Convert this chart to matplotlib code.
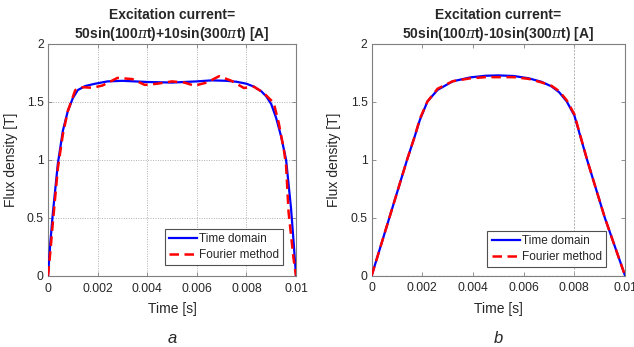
import numpy as np
import matplotlib
matplotlib.use('Agg')
import matplotlib.pyplot as plt

plt.rcParams['font.family'] = ['Liberation Sans', 'DejaVu Sans']
plt.rcParams['mathtext.fontset'] = 'custom'
plt.rcParams['mathtext.it'] = 'DejaVu Serif:italic'

# панель a: 50sin(100πt)+10sin(300πt)
t_a_time = [0, 0.0001, 0.0002, 0.0004, 0.0006, 0.0008, 0.001, 0.0012, 0.0015, 0.0019,
            0.0024, 0.003, 0.004, 0.005, 0.006, 0.0066, 0.0072, 0.0076, 0.008, 0.0083,
            0.0086, 0.0088, 0.009, 0.0092, 0.0094, 0.0096, 0.0098, 0.0099, 0.01]
B_a_time = [0, 0.3, 0.55, 0.97, 1.25, 1.42, 1.53, 1.6, 1.635, 1.655,
            1.675, 1.68, 1.67, 1.665, 1.675, 1.684, 1.68, 1.672, 1.655, 1.63,
            1.59, 1.546, 1.48, 1.36, 1.2, 1.0, 0.58, 0.3, 0]

t_a_four = [0, 0.0001, 0.0002, 0.0004, 0.0006, 0.0008, 0.0011, 0.0014, 0.0018, 0.0022,
            0.0028, 0.0034, 0.0039, 0.0044, 0.005, 0.0055, 0.0059, 0.0064, 0.0069, 0.0074,
            0.0079, 0.0083, 0.0087, 0.0091, 0.0093, 0.0095, 0.0096, 0.0097, 0.0099, 0.01]
B_a_four = [0, 0.22, 0.47, 0.93, 1.22, 1.42, 1.6, 1.625, 1.62, 1.64,
            1.705, 1.695, 1.645, 1.655, 1.675, 1.665, 1.638, 1.665, 1.72, 1.68,
            1.618, 1.63, 1.575, 1.49, 1.32, 1.1, 0.95, 0.55, 0.15, 0]

# панель b: 50sin(100πt)-10sin(300πt)
t_b = [0, 0.0007, 0.0014, 0.0017, 0.0019, 0.0022, 0.0026, 0.0032, 0.0039, 0.0045,
       0.005, 0.0056, 0.0062, 0.0067, 0.0071, 0.0074, 0.0077, 0.008, 0.0085, 0.0092, 0.01]
B_b_time = [0, 0.5, 1.0, 1.2, 1.34, 1.5, 1.6, 1.674, 1.708, 1.722,
            1.725, 1.72, 1.7, 1.67, 1.63, 1.58, 1.5, 1.38, 1.0, 0.5, 0]
B_b_four = [0, 0.5, 1.0, 1.2, 1.35, 1.5, 1.61, 1.675, 1.7, 1.71,
            1.71, 1.71, 1.695, 1.665, 1.635, 1.59, 1.51, 1.39, 1.0, 0.5, 0]

x_ticks = [0, 0.002, 0.004, 0.006, 0.008, 0.01]
x_ticklabels = ['0', '0.002', '0.004', '0.006', '0.008', '0.01']
y_ticks = [0, 0.5, 1, 1.5, 2]
y_ticklabels = ['0', '0.5', '1', '1.5', '2']

titles = ['Excitation current=\n50sin(100$\\pi$t)+10sin(300$\\pi$t) [A]',
          'Excitation current=\n50sin(100$\\pi$t)-10sin(300$\\pi$t) [A]']
captions = ['a', 'b']

txt = '#262626'
spine = '#7f7f7f'

fig = plt.figure(figsize=(6.34, 3.47), dpi=100)
ax_a = fig.add_axes([48 / 634, 1 - 275.7 / 347, 248 / 634, 232 / 347])
ax_b = fig.add_axes([371.7 / 634, 1 - 275.5 / 347, 253.3 / 634, 232 / 347])


def setup(ax, title, caption):
    ax.set_xlim(0, 0.01)
    ax.set_ylim(0, 2)
    ax.set_xticks(x_ticks)
    ax.set_xticklabels(x_ticklabels)
    ax.set_yticks(y_ticks)
    ax.set_yticklabels(y_ticklabels)
    ax.tick_params(direction='in', length=3, width=0.6, colors=spine,
                   labelcolor=txt, labelsize=8.7, top=True, right=True)
    ax.tick_params(axis='x', pad=5)
    ax.tick_params(axis='y', pad=3)
    for s in ax.spines.values():
        s.set_color(spine)
        s.set_linewidth(0.8)
    ax.set_xlabel('Time [s]', fontsize=10, color=txt)
    ax.set_ylabel('Flux density [T]', fontsize=10, color=txt)
    ax.xaxis.set_label_coords(0.5, -0.115)
    ax.yaxis.set_label_coords(-0.122, 0.5)
    ax.set_title(title, fontsize=10, fontweight='bold', color=txt, pad=4,
                 linespacing=1.25)
    ax.text(0.5, -0.27, caption, transform=ax.transAxes, fontsize=12,
            style='italic', color=txt, ha='center', va='center')


setup(ax_a, titles[0], captions[0])
setup(ax_b, titles[1], captions[1])

# сетка
ax_a.grid(True, linestyle=(0, (1, 1.5)), color='#b0b0b0', linewidth=0.7)
ax_b.axvline(0.008, linestyle=(0, (2, 1.5)), color='#b0b0b0', linewidth=0.7)
ax_b.axhline(0, linestyle=(0, (2, 1.5)), color='#b0b0b0', linewidth=0.9)

dash = (0, (3.8, 2.2))
ax_a.plot(t_a_time, B_a_time, color='#0000ff', lw=1.6, label='Time domain', zorder=3)
ax_a.plot(t_a_four, B_a_four, color='#ff0000', lw=1.8, ls=dash, label='Fourier method', zorder=4)
ax_b.plot(t_b, B_b_time, color='#0000ff', lw=1.6, label='Time domain', zorder=3)
ax_b.plot(t_b, B_b_four, color='#ff0000', lw=1.8, ls=dash, label='Fourier method', zorder=4)

for ax, anchor in [(ax_a, (0.948, 0.046)), (ax_b, (0.924, 0.036))]:
    leg = ax.legend(loc='lower right', bbox_to_anchor=anchor, fontsize=8.5,
                    fancybox=False, edgecolor='#505050', framealpha=1,
                    borderaxespad=0, handlelength=2.4, handletextpad=0.15,
                    borderpad=0.35, labelspacing=0.35)
    leg.get_frame().set_linewidth(0.8)
    for tx in leg.get_texts():
        tx.set_color(txt)

fig.savefig('out.png', dpi=100)
